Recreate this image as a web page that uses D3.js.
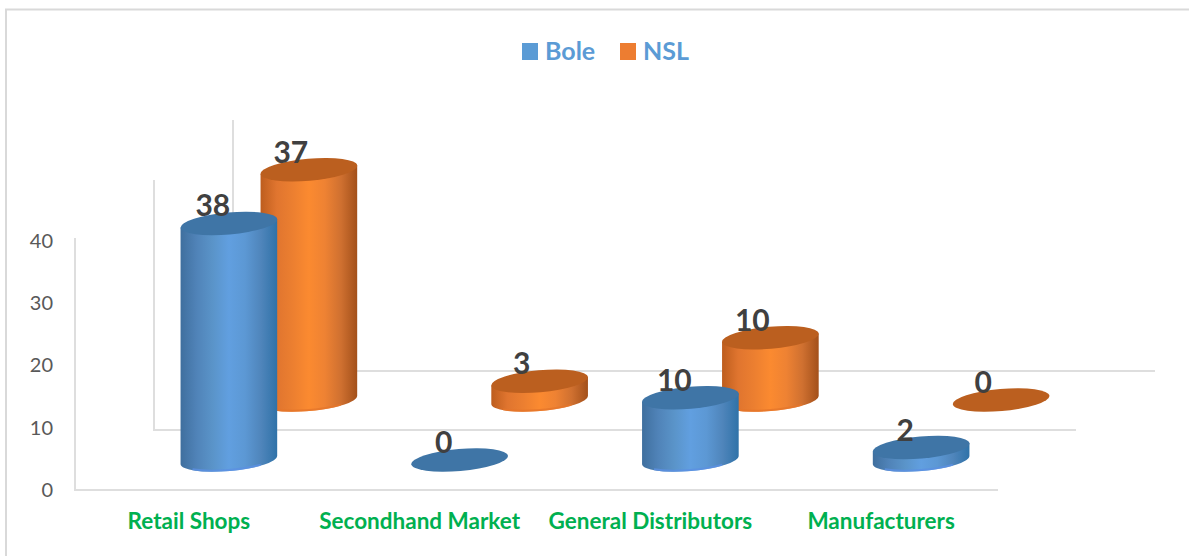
<!DOCTYPE html>
<meta charset="utf-8">
<style>
body { margin: 0; background: #fff; }
text { font-family: Lato, "Open Sans", sans-serif; }
</style>
<svg width="1189" height="556"></svg>
<script src="https://cdn.jsdelivr.net/npm/d3@7"></script>
<script>

var categories = ["Retail Shops", "Secondhand Market", "General Distributors", "Manufacturers"];
var seriesNames = ["Bole", "NSL"];
var bole = [38, 0, 10, 2];
var nsl = [37, 3, 10, 0];
var yTicks = [0, 10, 20, 30, 40];

var svg = d3.select("svg"),
    defs = svg.append("defs");

var rx = 48.5, ry = 11, tilt = -5;

var x = d3.scaleBand().domain(categories).range([113.5, 1036.5]).padding(0);
var y = d3.scaleLinear().domain([0, 40]).range([490, 241]);

// one step back in depth for each series
var depthX = d3.scaleOrdinal().domain(seriesNames).range([0, 80]);
var depthY = d3.scaleOrdinal().domain(seriesNames).range([0, -60]);
var labelShift = d3.scaleOrdinal().domain(seriesNames).range([-16, -18]);

var colors = { Bole: "#5b9bd5", NSL: "#ed7d31" };
var bodyStops = {
  Bole: ["#3f6f9e", "#5083b8", "#5a94c9", "#619fe0", "#5c98d4", "#4f85bb", "#2f72a8"],
  NSL: ["#bd5d1e", "#e0752f", "#ec7f30", "#fb8a30", "#ee8233", "#cf7030", "#a3501a"]
};
var capColors = { Bole: "#3f75a6", NSL: "#bb5f1f" };
var rimColors = { Bole: "#5b90e2", NSL: "#e5752a" };

seriesNames.forEach(function(s) {
  var g = defs.append("linearGradient").attr("id", "body" + s);
  bodyStops[s].forEach(function(c, i) {
    g.append("stop").attr("offset", i / (bodyStops[s].length - 1)).attr("stop-color", c);
  });
});

// frame, open on the right and at the bottom
svg.append("path")
    .attr("d", "M6,556V9.5H1189")
    .attr("fill", "none")
    .attr("stroke", "#d9d9d9")
    .attr("stroke-width", 2);

// walls and floor lines, back to front
var walls = [
  { x0: 233, top: 120, y0: 371, x1: 1155 },
  { x0: 154, top: 180, y0: 430, x1: 1076 },
  { x0: 75, top: 238, y0: 490, x1: 998 }
];
svg.append("g").selectAll("path").data(walls).join("path")
    .attr("d", function(d) { return "M" + d.x0 + "," + d.top + "V" + d.y0 + "H" + d.x1; })
    .attr("fill", "none")
    .attr("stroke", "#dedede")
    .attr("stroke-width", 2);

// value axis
var yAxis = svg.append("g")
    .attr("transform", "translate(60,0)")
    .call(d3.axisLeft(y).tickValues(yTicks).tickSize(0).tickPadding(7));
yAxis.select(".domain").remove();
yAxis.selectAll("text").attr("font-size", 20).attr("fill", "#595959")
    .style("font-family", "Lato, sans-serif");

// category axis
var xAxis = svg.append("g")
    .attr("transform", "translate(-40,513)")
    .call(d3.axisBottom(x).tickSize(0).tickPadding(0));
xAxis.select(".domain").remove();
xAxis.selectAll("text").attr("font-size", 22.5).attr("font-weight", 700).attr("fill", "#00b050")
    .style("font-family", "Lato, sans-serif");

var rows = [];
categories.forEach(function(c, i) {
  rows.push({ series: "NSL", cat: c, value: nsl[i] });
});
categories.forEach(function(c, i) {
  rows.push({ series: "Bole", cat: c, value: bole[i] });
});

function cx(d) { return x(d.cat) + x.bandwidth() / 2 + depthX(d.series); }
function baseY(d) { return y(0) - 30 + depthY(d.series); }
function topY(d) { return baseY(d) - (y(0) - y(d.value)); }

// point on the tilted ellipse at parameter a (degrees)
function onEllipse(a) {
  var t = tilt * Math.PI / 180, r = a * Math.PI / 180;
  return [
    rx * Math.cos(r) * Math.cos(t) - ry * Math.sin(r) * Math.sin(t),
    rx * Math.cos(r) * Math.sin(t) + ry * Math.sin(r) * Math.cos(t)
  ];
}

var bars = svg.append("g").selectAll("g").data(rows).join("g")
    .attr("transform", function(d) { return "translate(" + cx(d) + ",0)"; });

var standing = bars.filter(function(d) { return d.value > 0; });

// side of the cylinder
standing.append("path")
    .attr("d", function(d) {
      var h = baseY(d) - topY(d), b = baseY(d), l = onEllipse(180), r = onEllipse(0);
      return "M" + l[0] + "," + (b + l[1] - h)
        + "V" + (b + l[1])
        + "A" + rx + "," + ry + "," + tilt + ",0,0," + r[0] + "," + (b + r[1])
        + "V" + (b + r[1] - h) + "Z";
    })
    .attr("fill", function(d) { return "url(#body" + d.series + ")"; });

// lighter rim along the foot, just inside the lower edge
standing.append("path")
    .attr("d", function(d) {
      var b = baseY(d) - 1, l = onEllipse(140), r = onEllipse(50);
      return "M" + l[0] + "," + (b + l[1])
        + "A" + rx + "," + ry + "," + tilt + ",0,0," + r[0] + "," + (b + r[1]);
    })
    .attr("fill", "none")
    .attr("stroke", function(d) { return rimColors[d.series]; })
    .attr("stroke-width", 2)
    .attr("stroke-opacity", 0.8);

// top cap
bars.append("ellipse")
    .attr("rx", rx)
    .attr("ry", ry)
    .attr("transform", function(d) { return "translate(0," + topY(d) + ") rotate(" + tilt + ")"; })
    .attr("fill", function(d) { return capColors[d.series]; });

// data labels
svg.append("g").selectAll("text").data(rows).join("text")
    .attr("x", function(d) { return cx(d) + labelShift(d.series); })
    .attr("y", function(d) { return topY(d) - 7; })
    .attr("text-anchor", "middle")
    .attr("font-size", 30)
    .attr("font-weight", 700)
    .attr("fill", "#404040")
    .text(function(d) { return d.value; });

// legend
var legendX = d3.scaleOrdinal().domain(seriesNames).range([522, 620]);
var legend = svg.append("g").selectAll("g").data(seriesNames).join("g")
    .attr("transform", function(d) { return "translate(" + legendX(d) + ",43)"; });
legend.append("rect")
    .attr("width", 16)
    .attr("height", 17)
    .attr("fill", function(d) { return colors[d]; });
legend.append("text")
    .attr("x", 23)
    .attr("y", 17)
    .attr("font-size", 25)
    .attr("font-weight", 700)
    .attr("fill", "#5b9bd5")
    .text(function(d) { return d; });

</script>
